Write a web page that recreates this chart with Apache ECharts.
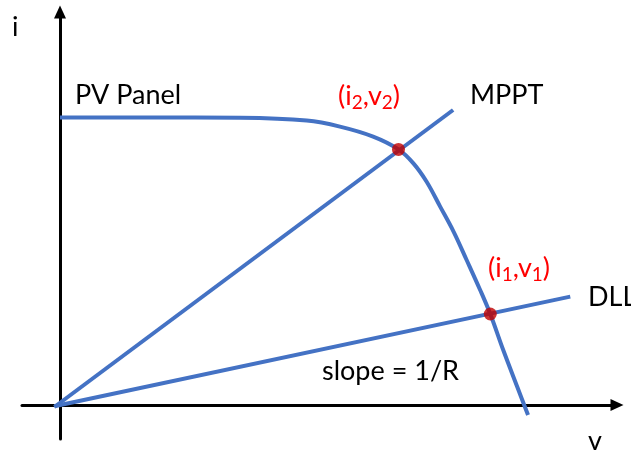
<!DOCTYPE html>
<html>
<head>
<meta charset="utf-8">
<script src="https://cdn.jsdelivr.net/npm/echarts@6/dist/echarts.min.js"></script>
<style>html,body{margin:0;padding:0;background:#fff;}#c{width:631px;height:452px;}</style>
</head>
<body>
<div id="c"></div>
<script>
// PV panel i-v curve (v, i)
const pvV = [0, 16.0, 32.0, 43.8, 49.7, 55.6, 60.1, 62.75, 65.1, 67.5, 69.9, 72.2, 74.6, 76.4, 78.7, 81.2, 83.1];
const pvI = [71.9, 71.9, 71.8, 71.1, 69.6, 67.1, 63.9, 60.4, 55.8, 49.6, 43.3, 36.25, 28.75, 22.75, 13.75, 4.5, -2.5];
// Load lines (start and end)
const mpptV = [-1, 69.8];
const mpptI = [-0.5, 73.75];
const dllV = [-1, 90.6];
const dllI = [-0.3, 27.1];
// Operating points
const opV = [60.1, 76.4];
const opI = [63.9, 22.75];

const zip = (a, b) => a.map((x, k) => [x, b[k]]);
const FONT = 'Lato';
const BLUE = '#4472C4';
const RED = '#C00000';
const LABELRED = '#FF0000';

const chart = echarts.init(document.getElementById('c'), null, {renderer: 'canvas'});
const axisCommon = {
  type: 'value',
  splitLine: {show: false},
  axisTick: {show: false},
  axisLabel: {show: false},
  axisLine: {show: true, onZero: true, symbol: ['none', 'triangle'], symbolSize: [12, 13],
    lineStyle: {color: '#000', width: 3}}
};
const txt = (text, x, y, extra) => ({type: 'text', x: x, y: y, z: 100,
  style: Object.assign({text: text, font: '27px ' + FONT, fill: '#000', verticalAlign: 'middle', align: 'left'}, extra || {})});
const subRich = {
  m: {fontFamily: FONT, fontSize: 27, fill: LABELRED, lineHeight: 32},
  s: {fontFamily: FONT, fontSize: 19, fill: LABELRED, lineHeight: 14, verticalAlign: 'bottom'}
};
chart.setOption({
  animation: false,
  backgroundColor: '#fff',
  grid: {left: 22, right: 14, top: 12, bottom: 13, containLabel: false},
  xAxis: Object.assign({}, axisCommon, {min: -6.75, max: 98.9}),
  yAxis: Object.assign({}, axisCommon, {min: -8.5, max: 98.25}),
  series: [
    {type: 'line', data: zip(pvV, pvI), smooth: 0.35, showSymbol: false, lineStyle: {color: BLUE, width: 4}, z: 3},
    {type: 'line', data: zip(mpptV, mpptI), showSymbol: false, lineStyle: {color: BLUE, width: 4}, z: 3},
    {type: 'line', data: zip(dllV, dllI), showSymbol: false, lineStyle: {color: BLUE, width: 4}, z: 3},
    {type: 'scatter', data: zip(opV, opI), symbolSize: 13, itemStyle: {color: RED}, z: 5}
  ],
  graphic: [
    txt('i', 12, 27),
    txt('PV Panel', 75, 95),
    txt('MPPT', 470, 95),
    txt('DLL', 588, 297),
    txt('slope = 1/R', 322, 371),
    txt('v', 588, 441),
    {type: 'text', x: 338, y: 80, z: 100, style: {text: '{m|(i}{s|2}{m|,v}{s|2}{m|)}', rich: subRich, fill: LABELRED, verticalAlign: 'top', align: 'left'}},
    {type: 'text', x: 488, y: 252, z: 100, style: {text: '{m|(i}{s|1}{m|,v}{s|1}{m|)}', rich: subRich, fill: LABELRED, verticalAlign: 'top', align: 'left'}}
  ]
});
</script>
</body>
</html>
